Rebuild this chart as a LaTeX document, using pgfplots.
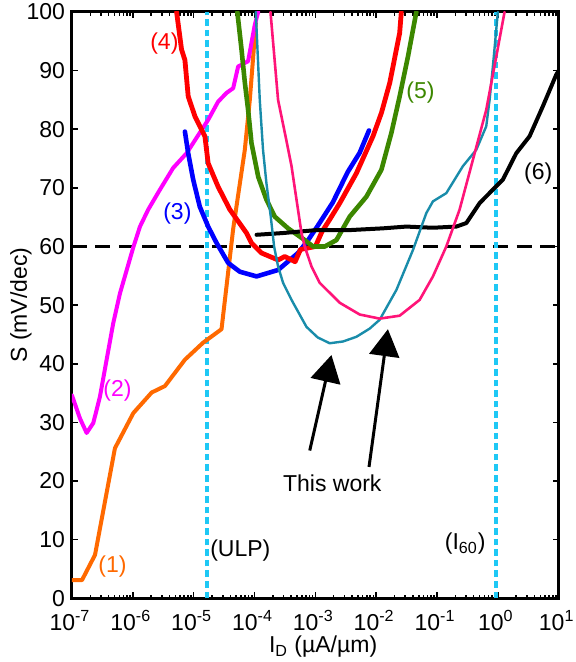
\documentclass[border=0pt]{standalone}
\usepackage{fontspec}
\setmainfont{Liberation Sans}
\usepackage{pgfplots}
\pgfplotsset{compat=1.18}
\usetikzlibrary{arrows.meta}
\definecolor{c1}{RGB}{255,105,0}
\definecolor{c2}{RGB}{255,0,255}
\definecolor{c3}{RGB}{0,0,255}
\definecolor{c4}{RGB}{255,0,0}
\definecolor{c5}{RGB}{60,135,0}
\definecolor{cteal}{RGB}{25,140,170}
\definecolor{cpink}{RGB}{255,20,120}
\definecolor{ccyan}{RGB}{30,200,245}
\begin{document}
\begin{tikzpicture}[font=\fontsize{11.5}{13.5}\selectfont]
\useasboundingbox (-36pt,-31.85pt) rectangle (252pt,299.15pt);
\begin{axis}[
  at={(0,0)}, anchor=south west,
  scale only axis, width=243.35pt, height=293.15pt,
  xmode=log, xmin=1e-7, xmax=1e1, ymin=0, ymax=100,
  xtick={1e-7,1e-6,1e-5,1e-4,1e-3,1e-2,1e-1,1e0,1e1},
  xticklabels={10\textsuperscript{-7},10\textsuperscript{-6},10\textsuperscript{-5},10\textsuperscript{-4},10\textsuperscript{-3},10\textsuperscript{-2},10\textsuperscript{-1},10\textsuperscript{0},10\textsuperscript{1}},
  ytick={0,10,...,100},
  /pgf/number format/assume math mode=true,
  axis line style={line width=1.5pt},
  every tick/.style={black, line width=0.8pt},
  major tick length=3pt, minor tick length=1.8pt,
  tick label style={font=\fontsize{11.5}{13.5}\selectfont},
  xticklabel style={yshift=-5.8pt, xshift=-1pt, inner ysep=0pt},
  yticklabel style={inner ysep=0pt},
  xlabel={I\textsubscript{D} (µA/µm)},
  ylabel={S (mV/dec)},
  xlabel style={at={(rel axis cs:0.516,0)}, anchor=center, yshift=-24.3pt, inner sep=0pt, font=\fontsize{11.5}{13.5}\selectfont},
  ylabel style={at={(rel axis cs:0,0.5)}, anchor=center, yshift=25.5pt, font=\fontsize{11.5}{13.5}\selectfont},
  every axis plot/.append style={line join=round, line cap=round},
  clip=true,
]
% reference lines
\addplot[black, line width=1.6pt, dash pattern=on 7.5pt off 4.2pt, line cap=butt] coordinates {(1e-7,60) (1e1,60)};
\addplot[ccyan, line width=2pt, dash pattern=on 3.3pt off 2pt, line cap=butt] coordinates {(1.65e-5,0) (1.65e-5,100)};
\addplot[ccyan, line width=2pt, dash pattern=on 3.3pt off 2pt, line cap=butt] coordinates {(0.92,0) (0.92,100)};
% (1)
\addplot[c1, line width=2pt] coordinates {
(1e-7,3.1) (1.46e-7,3.1) (2.39e-7,7.4) (5.08e-7,25.6) (1.02e-6,31.6) (2.04e-6,35.1)
(3.37e-6,36.2) (7.18e-6,40.7) (1.43e-5,43.6) (2.87e-5,45.9) (4.46e-5,63) (6.93e-5,76.5)
(8.37e-5,85) (1.05e-4,98.1)};
% (2)
\addplot[c2, line width=2pt] coordinates {
(1e-7,34.6) (1.35e-7,30.7) (1.74e-7,28.2) (2.24e-7,29.9) (2.88e-7,34.4) (4.76e-7,46.9)
(6.14e-7,52.0) (1.02e-6,59.9) (1.31e-6,63.4) (1.79e-6,66.3) (2.79e-6,69.7) (4.60e-6,73.4)
(7.64e-6,75.9) (1.26e-5,79.4) (1.73e-5,81.6) (2.52e-5,84.7) (3.47e-5,86.2) (4.46e-5,87.0)
(5.38e-5,90.7) (7.85e-5,91.6) (1.01e-4,97.8) (1.15e-4,100)};
% (3)
\addplot[c3, line width=2.3pt] coordinates {
(7.18e-6,79.6) (8.13e-6,75.9) (9.82e-6,71.4) (1.26e-5,66.8) (1.73e-5,63.4) (2.38e-5,60.6)
(3.69e-5,57.2) (5.74e-5,55.7) (1.08e-4,54.9) (2.44e-4,56.0) (5.20e-4,58.9) (7.50e-4,61)
(1.09e-3,63.5) (1.93e-3,67.5) (3.40e-3,72.7) (5.36e-3,76) (7.62e-3,79.8)};
% (4)
\addplot[c4, line width=2.4pt] coordinates {
(5.24e-6,100) (6.32e-6,93.6) (7.18e-6,91.8) (8.13e-6,85.6) (1.05e-5,82.2) (1.53e-5,78.8)
(1.73e-5,74.2) (2.52e-5,70.2) (3.93e-5,66.3) (7.39e-5,62.3) (8.93e-5,60.6) (1.30e-4,58.9)
(2.44e-4,57.7) (3.15e-4,58.3) (4.65e-4,57.4) (5.7e-4,59.5) (1.0e-3,60.0) (1.28e-3,62.5)
(1.72e-3,64.6) (2.52e-3,67.4) (4.73e-3,72.5) (8.85e-3,78.8) (1.22e-2,82.8) (1.67e-2,87.9)
(2.43e-2,96.4) (2.59e-2,100)};
% (5)
\addplot[c5, line width=2.3pt] coordinates {
(5.22e-5,100) (6.12e-5,93.6) (6.93e-5,88) (7.85e-5,83.3) (8.93e-5,77.6) (1.15e-4,71.9)
(1.57e-4,68.0) (2.15e-4,65.1) (3.56e-4,63.1) (6.70e-4,61.1) (9.16e-4,60.0) (1.43e-3,60.0)
(2.22e-3,61.1) (3.67e-3,65.1) (6.90e-3,68.5) (1.22e-2,73.1) (1.78e-2,79.4) (2.43e-2,85.6)
(3.33e-2,92.4) (4.57e-2,100)};
% (6)
\addplot[black, line width=2pt] coordinates {
(1.08e-4,62.0) (2.95e-4,62.3) (1.04e-3,62.8) (3.67e-3,62.8) (1.29e-2,63.1) (3.13e-2,63.4)
(8.57e-2,63.2) (0.2075,63.4) (0.303,64.0) (0.501,67.4) (0.828,69.7) (1.208,71.4)
(2.004,75.9) (3.319,78.8) (5.48,83.9) (9.1,89.3) (10,90)};
% this work (teal)
\addplot[cteal, line width=1.2pt] coordinates {
(1.05e-4,100) (1.22e-4,85.0) (1.38e-4,76.5) (1.57e-4,70.8) (1.85e-4,65.1) (2.10e-4,60.0)
(2.44e-4,56.6) (2.95e-4,53.8) (4.06e-4,50.9) (7.14e-4,46.3) (1.09e-3,44.5) (1.72e-3,43.5)
(2.85e-3,43.8) (4.73e-3,44.6) (7.82e-3,46) (1.14e-2,47.5) (2.15e-2,52.6) (4.02e-2,59.4)
(6.67e-2,65.7) (8.57e-2,67.7) (0.142,69.1) (0.266,73.7) (0.442,76.5) (0.644,80.5)
(0.731,85) (0.828,90.7) (1.0,100)};
% this work (pink)
\addplot[cpink, line width=1.3pt] coordinates {
(1.83e-4,100) (2.44e-4,85.0) (3.15e-4,79.4) (4.06e-4,73.7) (4.90e-4,68.0) (5.92e-4,62.3)
(6.70e-4,60.0) (8.63e-4,56.6) (1.18e-3,53.8) (2.52e-3,50.4) (5.36e-3,48.4) (1.14e-2,47.7)
(2.43e-2,48.2) (5.18e-2,50.9) (8.57e-2,54.9) (0.142,60.0) (0.235,66.3) (0.389,74.8)
(0.644,83.3) (0.942,92.4) (1.288,100)};
% arrows
\draw[black, line width=1.5pt, -{Triangle[length=13.5pt,width=15pt]}] (axis cs:8.09e-4,25.2) -- (axis cs:1.84e-3,41.5);
\draw[black, line width=1.5pt, -{Triangle[length=13.5pt,width=15pt]}] (axis cs:7.62e-3,22.4) -- (axis cs:1.56e-2,45.9);
% labels
\node[text=c4] at (axis cs:3.3e-6,94.7) {(4)};
\node[text=c3] at (axis cs:5.4e-6,65.7) {(3)};
\node[text=c2] at (axis cs:5.58e-7,35.5) {(2)};
\node[text=c1] at (axis cs:4.62e-7,5.5) {(1)};
\node[text=c5] at (axis cs:0.0533,86.3) {(5)};
\node[text=black] at (axis cs:4.62,72.5) {(6)};
\node[anchor=west, inner sep=0pt] at (axis cs:1.85e-5,8.2) {(ULP)};
\node at (axis cs:0.29,9.3) {(I\textsubscript{60})};
\node at (axis cs:1.9e-3,19.6) {This work};
\end{axis}
\end{tikzpicture}
\end{document}
